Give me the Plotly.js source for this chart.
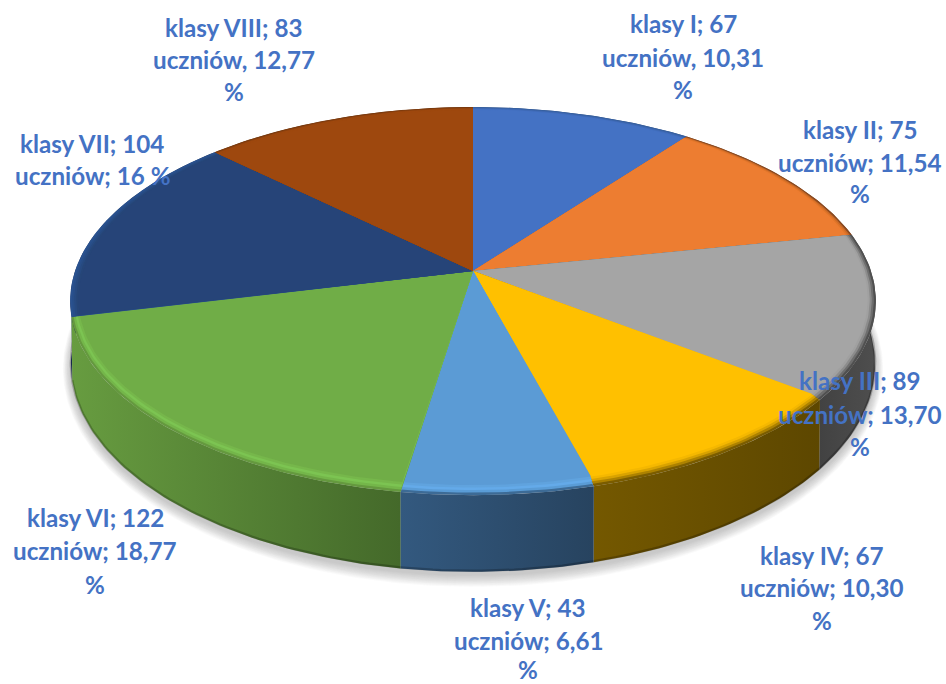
<!DOCTYPE html>
<html><head><meta charset="utf-8">
<script src="https://cdn.plot.ly/plotly-3.0.1.min.js"></script>
<style>html,body{margin:0;padding:0;background:#fff}</style></head>
<body><div id="chart" style="width:946px;height:684px"></div>
<script>
const categories = ["klasy I","klasy II","klasy III","klasy IV","klasy V","klasy VI","klasy VII","klasy VIII"];
const students = [67,75,89,67,43,122,104,83];
const percentText = ["10,31","11,54","13,70","10,30","6,61","18,77","16","12,77"];
const separators = [", ","; ","; ","; ","; ","; ","; ",", "];
const wallLeft  = ["#2f4f88","#8a4a20","#424242","#745800","#33597f","#679c40","#1d3560","#6e3208"];
const wallRight = ["#2f4f88","#7a3e18","#4e4e4e","#5d4700","#27435f","#44692a","#1d3560","#6e3208"];
const bevelColors = [
 ["#4472c4","#4472c4","#406cba","#3c66ae","#36609f"],
 ["#ed7d31","#ed7d31","#e27629","#c96a28","#8a4a20"],
 ["#a5a5a5","#a0a0a0","#8c8c8c","#6e6e6e","#505050"],
 ["#ffc000","#f5b800","#d9a300","#ad8200","#7a5c00"],
 ["#5b9bd5","#60a3de","#64aae9","#5a9cd6","#3d6b96"],
 ["#70ad47","#76b74b","#7cc452","#74b64a","#65993f"],
 ["#264478","#264678","#274a80","#284e88","#2a5290"],
 ["#9e480e","#9e480e","#9e480e","#8f420e","#7a3a0e"]];
const labelX = [683,860,860,822,528,95,92,234];
const labelY = [[23,57,89],[129,162,193],[380,414,446],[555,587,620],[607,640,669],[517,550,584],[143,175],[27,59,91]];
const labelColor = "#4472c4";

// projection of the tilted disc
const hubX=473, hubTop=271, hubBottom=332, A=398, B=189.4, K=0.155;
const lowX=0.998, lowY=1.07;
function pt(deg, r, hubY, sx, sy, lift){
  const a=deg*Math.PI/180, u=r*Math.sin(a), v=-r*Math.cos(a), w=1-K*v;
  return [hubX+sx*A*u/w, hubY+sy*B*v/w-(lift||0)*Math.max(0,-Math.cos(a))];
}
function arc(d0,d1,fn){
  const n=Math.max(2,Math.ceil(Math.abs(d1-d0))), out=[];
  for(let i=0;i<=n;i++) out.push(fn(d0+(d1-d0)*i/n));
  return out;
}
const total=students.reduce((a,b)=>a+b,0);
const edges=[0]; students.forEach(s=>edges.push(edges[edges.length-1]+s/total*360));

const traces=[];
function poly(points,color,extra){
  const t={x:points.map(p=>p[0]),y:points.map(p=>p[1]),mode:'lines',line:{width:0},
    fill:'toself',fillcolor:color,hoverinfo:'skip',showlegend:false,type:'scatter'};
  return Object.assign(t,extra||{});
}
// soft shadow
for(let i=12;i>=1;i--){
  const t=i/12;
  const p=arc(0,360,d=>pt(d,1,hubBottom+3,lowX*(1+0.02*t),lowY*(1+0.05*t),0));
  traces.push(poly(p,'rgba(110,110,110,0.035)'));
}
// walls, back to front
const order=categories.map((c,i)=>i).sort((a,b)=>{
  const m=i=>-Math.cos((edges[i]+edges[i+1])/2*Math.PI/180);
  return m(a)-m(b);
});
order.forEach(i=>{
  const up=arc(edges[i],edges[i+1],d=>pt(d,1,hubTop,1,1));
  const lo=arc(edges[i+1],edges[i],d=>pt(d,1,hubBottom,lowX,lowY));
  traces.push(poly(up.concat(lo),wallLeft[i],{fillgradient:{type:'horizontal',
    colorscale:[[0,wallLeft[i]],[1,wallRight[i]]]}}));
  const rim=arc(edges[i],edges[i+1],d=>pt(d,1,hubBottom,lowX,lowY));
  traces.push({x:rim.map(p=>p[0]),y:rim.map(p=>p[1]-1),mode:'lines',
    line:{width:2.5,color:'rgba(0,0,0,0.22)'},hoverinfo:'skip',showlegend:false,type:'scatter'});
});
// top slices with bevel bands
const N=5;
categories.forEach((c,i)=>{
  for(let b=N-1;b>=0;b--){
    const t=(b+1)/N, r=1-0.025*(1-t), lift=6*(1-t);
    const p=[[hubX,hubTop]].concat(arc(edges[i],edges[i+1],d=>pt(d,r,hubTop,1,1,lift)));
    p.push([hubX,hubTop]);
    traces.push(poly(p,bevelColors[i][b]));
  }
});
// labels
const annotations=[];
categories.forEach((c,i)=>{
  const lines=[c+"; "+students[i], "uczniów"+separators[i]+percentText[i]+(labelY[i].length===2?" %":""), "%"];
  labelY[i].forEach((y,j)=>annotations.push({x:labelX[i],y:y,xref:'x',yref:'y',text:lines[j],showarrow:false,
    xanchor:'center',yanchor:'middle',font:{family:'Lato, "Open Sans", sans-serif',size:24.2,color:labelColor,weight:700}}));
});
Plotly.newPlot('chart',traces,{
  width:946,height:684,margin:{l:0,r:0,t:0,b:0},paper_bgcolor:'#fff',plot_bgcolor:'#fff',showlegend:false,
  xaxis:{range:[0,946],visible:false,fixedrange:true},
  yaxis:{range:[684,0],visible:false,fixedrange:true},
  annotations:annotations
},{displayModeBar:false,staticPlot:true});
</script></body></html>
